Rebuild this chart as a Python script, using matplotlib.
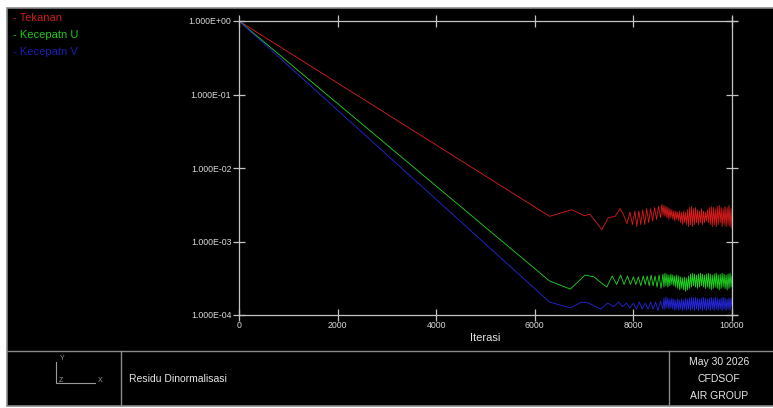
import matplotlib
matplotlib.use("Agg")
import matplotlib.pyplot as plt
from matplotlib.ticker import FixedLocator, FixedFormatter, NullLocator

plt.rcParams['font.family'] = ['Liberation Sans', 'DejaVu Sans']

# --- data ---
series_names = ["- Tekanan", "- Kecepatn U", "- Kecepatn V"]
series_colors = ["#e01c1c", "#22d822", "#2626e0"]
legend_colors = ["#c81e1e", "#1ec81e", "#1e1eb4"]

# early part: iteration / residual pairs
tek_iter = [0, 6300, 6750, 7000, 7120, 7360, 7490, 7630, 7730, 7800, 7870, 7930,
            7980, 8030, 8070, 8110, 8150, 8190, 8230, 8270, 8310, 8350, 8390,
            8430, 8470, 8510, 8550, 8580]
tek_res = [1.0, 2.2e-3, 2.7e-3, 2.25e-3, 2.35e-3, 1.45e-3, 2.1e-3, 2.2e-3, 2.8e-3,
           2.3e-3, 1.75e-3, 2.5e-3, 1.7e-3, 2.6e-3, 1.6e-3, 2.6e-3, 1.7e-3, 2.7e-3,
           1.7e-3, 2.8e-3, 1.8e-3, 2.8e-3, 1.9e-3, 2.9e-3, 2.0e-3, 3.0e-3, 2.1e-3, 3.2e-3]

u_iter = [0, 6300, 6720, 7020, 7200, 7330, 7460, 7570, 7660, 7740, 7810, 7880, 7940,
          8000, 8050, 8100, 8150, 8200, 8240, 8280, 8320, 8360, 8400, 8440, 8480,
          8520, 8560]
u_res = [1.0, 2.9e-4, 2.25e-4, 3.5e-4, 3.3e-4, 2.8e-4, 2.4e-4, 3.4e-4, 2.6e-4, 3.5e-4,
         2.6e-4, 3.4e-4, 2.6e-4, 3.3e-4, 2.6e-4, 3.3e-4, 2.5e-4, 3.4e-4, 2.6e-4, 3.4e-4,
         2.5e-4, 3.5e-4, 2.5e-4, 3.4e-4, 2.4e-4, 3.5e-4, 2.3e-4]

v_iter = [0, 6300, 6720, 6950, 7100, 7330, 7480, 7600, 7700, 7780, 7860, 7930, 8000,
          8060, 8120, 8180, 8240, 8300, 8350, 8400, 8450, 8500, 8550]
v_res = [1.0, 1.5e-4, 1.25e-4, 1.5e-4, 1.45e-4, 1.2e-4, 1.45e-4, 1.3e-4, 1.5e-4,
         1.3e-4, 1.45e-4, 1.25e-4, 1.45e-4, 1.2e-4, 1.5e-4, 1.2e-4, 1.45e-4, 1.2e-4,
         1.5e-4, 1.2e-4, 1.5e-4, 1.15e-4, 1.55e-4]

# noisy tail, every 20 iterations from 8600 to 10000
tail_iter = list(range(8600, 10001, 20))
tek_tail = [2.3e-3, 3.1e-3, 2.2e-3, 3.0e-3, 2.1e-3, 2.9e-3, 2.0e-3, 2.8e-3, 2.1e-3, 2.7e-3,
            2.0e-3, 2.6e-3, 1.9e-3, 2.6e-3, 2.0e-3, 2.5e-3, 1.9e-3, 2.6e-3, 1.8e-3, 2.5e-3,
            1.7e-3, 2.6e-3, 1.8e-3, 2.5e-3, 1.7e-3, 2.7e-3, 1.6e-3, 2.9e-3, 1.7e-3, 3.0e-3,
            1.6e-3, 2.8e-3, 1.7e-3, 2.9e-3, 1.8e-3, 2.7e-3, 1.7e-3, 2.6e-3, 1.8e-3, 2.8e-3,
            1.7e-3, 2.6e-3, 1.8e-3, 2.5e-3, 1.9e-3, 2.7e-3, 1.8e-3, 2.9e-3, 1.7e-3, 3.0e-3,
            1.6e-3, 2.9e-3, 1.7e-3, 2.8e-3, 1.6e-3, 3.0e-3, 1.7e-3, 3.1e-3, 1.8e-3, 2.9e-3,
            1.6e-3, 2.8e-3, 1.7e-3, 3.0e-3, 1.6e-3, 2.9e-3, 1.7e-3, 3.1e-3, 1.6e-3, 2.8e-3,
            1.5e-3]
u_tail = [3.6e-4, 2.4e-4, 3.7e-4, 2.5e-4, 3.6e-4, 2.4e-4, 3.5e-4, 2.5e-4, 3.6e-4, 2.6e-4,
          3.5e-4, 2.5e-4, 3.4e-4, 2.4e-4, 3.5e-4, 2.3e-4, 3.4e-4, 2.2e-4, 3.3e-4, 2.3e-4,
          3.2e-4, 2.2e-4, 3.3e-4, 2.1e-4, 3.2e-4, 2.2e-4, 3.4e-4, 2.3e-4, 3.6e-4, 2.4e-4,
          3.7e-4, 2.5e-4, 3.6e-4, 2.4e-4, 3.5e-4, 2.3e-4, 3.6e-4, 2.4e-4, 3.7e-4, 2.5e-4,
          3.6e-4, 2.4e-4, 3.5e-4, 2.3e-4, 3.6e-4, 2.4e-4, 3.7e-4, 2.3e-4, 3.6e-4, 2.2e-4,
          3.5e-4, 2.3e-4, 3.6e-4, 2.4e-4, 3.7e-4, 2.3e-4, 3.5e-4, 2.2e-4, 3.6e-4, 2.3e-4,
          3.7e-4, 2.4e-4, 3.6e-4, 2.3e-4, 3.5e-4, 2.2e-4, 3.6e-4, 2.3e-4, 3.7e-4, 2.4e-4,
          3.4e-4]
v_tail = [1.2e-4, 1.7e-4, 1.2e-4, 1.75e-4, 1.25e-4, 1.7e-4, 1.2e-4, 1.65e-4, 1.25e-4, 1.7e-4,
          1.2e-4, 1.65e-4, 1.15e-4, 1.6e-4, 1.2e-4, 1.65e-4, 1.15e-4, 1.6e-4, 1.2e-4, 1.65e-4,
          1.15e-4, 1.6e-4, 1.2e-4, 1.7e-4, 1.15e-4, 1.65e-4, 1.2e-4, 1.7e-4, 1.15e-4, 1.75e-4,
          1.2e-4, 1.7e-4, 1.15e-4, 1.75e-4, 1.2e-4, 1.7e-4, 1.15e-4, 1.65e-4, 1.2e-4, 1.7e-4,
          1.15e-4, 1.75e-4, 1.2e-4, 1.7e-4, 1.15e-4, 1.65e-4, 1.2e-4, 1.7e-4, 1.15e-4, 1.75e-4,
          1.2e-4, 1.7e-4, 1.15e-4, 1.75e-4, 1.2e-4, 1.7e-4, 1.15e-4, 1.65e-4, 1.2e-4, 1.7e-4,
          1.15e-4, 1.75e-4, 1.2e-4, 1.7e-4, 1.15e-4, 1.65e-4, 1.2e-4, 1.7e-4, 1.15e-4, 1.7e-4,
          1.3e-4]

x_ticks = [0, 2000, 4000, 6000, 8000, 10000]
y_ticks = [1.0, 1e-1, 1e-2, 1e-3, 1e-4]
y_tick_labels = ["1.000E+00", "1.000E-01", "1.000E-02", "1.000E-03", "1.000E-04"]
x_label = "Iterasi"
title_text = "Residu Dinormalisasi"
info_lines = ["May 30 2026", "CFDSOF", "AIR GROUP"]

W, H = 773, 408
fig = plt.figure(figsize=(W / 100, H / 100), dpi=100, facecolor="white")

# frame / title block, drawn in pixel coordinates
bg = fig.add_axes([0, 0, 1, 1])
bg.set_xlim(0, W)
bg.set_ylim(H, 0)
bg.axis("off")
frame = "#8a8a8a"
bg.add_patch(plt.Rectangle((6.5, 7.5), W - 6, 398, facecolor="black",
                           edgecolor=frame, linewidth=1.2))
bg.plot([7, W], [351, 351], color=frame, lw=1)
bg.plot([121, 121], [351, 405], color=frame, lw=1)
bg.plot([669, 669], [351, 405], color=frame, lw=1)

for i, (name, col) in enumerate(zip(series_names, legend_colors)):
    bg.text(13, 18 + 17 * i, name, color=col, fontsize=8, va="center", ha="left")

# small axis triad
tri = "#9a9a9a"
bg.plot([56, 56, 95], [362, 383, 383], color=tri, lw=0.8)
bg.text(62, 359, "Y", color=tri, fontsize=5, va="center", ha="center")
bg.text(61, 380, "Z", color=tri, fontsize=5, va="center", ha="center")
bg.text(100, 381, "X", color=tri, fontsize=5, va="center", ha="center")

bg.text(129, 379, title_text, color="#e6e6e6", fontsize=7.5, va="center", ha="left")
for i, line in enumerate(info_lines):
    bg.text(719, 362 + 17 * i, line, color="#e6e6e6", fontsize=7.5, va="center", ha="center")

# residual plot
ax = fig.add_axes([239 / W, 1 - 315 / H, (732 - 239) / W, (315 - 21) / H])
ax.set_facecolor("none")
ax.set_yscale("log")

ax.plot(tek_iter + tail_iter, tek_res + tek_tail, color=series_colors[0], lw=0.6)
ax.plot(u_iter + tail_iter, u_res + u_tail, color=series_colors[1], lw=0.6)
ax.plot(v_iter + tail_iter, v_res + v_tail, color=series_colors[2], lw=0.6)

ax.set_xlim(0, 10000)
ax.set_ylim(1e-4, 1.0)

axis_col = "#c4c4c4"
for s in ax.spines.values():
    s.set_color(axis_col)
    s.set_linewidth(0.9)
# small overhangs of the axis lines
ext = dict(color=axis_col, lw=0.9, transform=ax.transAxes, clip_on=False)
ax.plot([1.0, 1.011], [0, 0], **ext)
ax.plot([1.0, 1.011], [1, 1], **ext)
ax.plot([1.0, 1.0], [1.0, 1.014], **ext)

ax.xaxis.set_major_locator(FixedLocator(x_ticks))
ax.yaxis.set_major_locator(FixedLocator(y_ticks))
ax.yaxis.set_major_formatter(FixedFormatter(y_tick_labels))
ax.yaxis.set_minor_locator(NullLocator())
ax.tick_params(axis="both", which="major", direction="inout", length=9, width=0.9,
               color=axis_col, labelcolor="#d8d8d8", labelsize=6.3,
               top=True, right=True, labeltop=False, labelright=False)
ax.tick_params(axis="x", pad=0)
ax.tick_params(axis="y", pad=1)
ax.set_xlabel(x_label, color="#e6e6e6", fontsize=8, labelpad=2)

fig.savefig("out.png", dpi=100, facecolor="white")
